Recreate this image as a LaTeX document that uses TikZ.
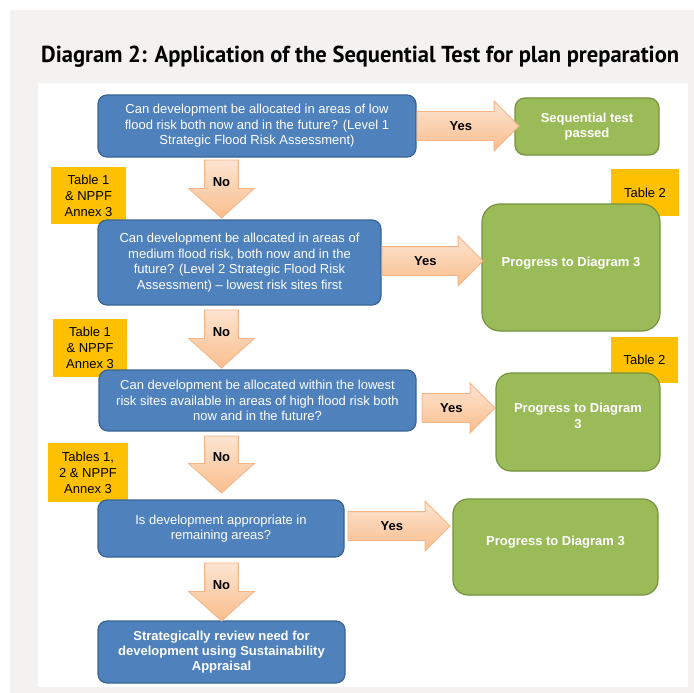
\documentclass[tikz,border=0pt]{standalone}
\usepackage{fontspec}
\usepackage{graphicx}
\setmainfont{Liberation Sans}
\newfontfamily\headfont{PT Sans}
\usetikzlibrary{shapes,arrows,positioning,calc}
\definecolor{pagegray}{HTML}{F3F2F1}
\definecolor{qblue}{HTML}{4F81BD}
\definecolor{qline}{HTML}{3A6493}
\definecolor{pgreen}{HTML}{9BBB59}
\definecolor{pline}{HTML}{76923C}
\definecolor{refyellow}{HTML}{FFC000}
\definecolor{arrtop}{HTML}{FDE4D0}
\definecolor{arrbot}{HTML}{F9BE8E}
\definecolor{arrline}{HTML}{F4B486}

\begin{document}
\begin{tikzpicture}[x=1pt, y=-1pt,
                    question/.style={rectangle, rounded corners=9pt, draw=qline, line width=1.2pt,
                                     fill=qblue, text=white, align=center, inner sep=0pt,
                                     font=\fontsize{13}{15.5}\selectfont},
                    outcome/.style={rectangle, rounded corners=12pt, draw=pline, line width=1.2pt,
                                    fill=pgreen, text=white, align=center, inner sep=0pt,
                                    font=\fontsize{13}{15.5}\selectfont\bfseries},
                    raised/.style={text depth=12pt},
                    tableref/.style={rectangle, fill=refyellow, align=center, inner sep=0pt,
                                     font=\fontsize{13}{16}\selectfont},
                    yesarrow/.style={single arrow, draw=arrline, line width=0.8pt,
                                     top color=arrtop, bottom color=arrbot, anchor=tail,
                                     font=\fontsize{13}{15}\selectfont\bfseries,
                                     text height=9.3pt, text depth=0pt, inner xsep=2pt, inner ysep=9.35pt,
                                     single arrow head extend=10.5pt, single arrow tip angle=90},
                    noarrow/.style={single arrow, shape border rotate=270, draw=arrline, line width=0.8pt,
                                    top color=arrtop, bottom color=arrbot, anchor=tail,
                                    font=\fontsize{13}{15}\selectfont\bfseries,
                                    text height=9.3pt, text depth=0pt, inner xsep=7.8pt, inner ysep=3pt,
                                    single arrow head extend=16pt, single arrow tip angle=96},
                   ]

\useasboundingbox (0,0) rectangle (694,693);
\fill[white] (0,0) rectangle (694,693);
\fill[pagegray] (10,10) rectangle (694,693);
\fill[white] (38,83) rectangle (688,687);

\node[anchor=base west, inner sep=0pt] (title) at (41,63)
  {\resizebox{638pt}{16.5pt}{\headfont\bfseries Diagram 2: Application of the Sequential Test for plan preparation}};

% references to the tables
\node[tableref, minimum width=75pt, minimum height=57pt] (ref1) at (88.5,195.5) {Table 1\\\& NPPF\\Annex 3};
\node[tableref, minimum width=74pt, minimum height=58pt] (ref2) at (90,348) {Table 1\\\& NPPF\\Annex 3};
\node[tableref, minimum width=80pt, minimum height=59pt] (ref3) at (88,472.5) {Tables 1,\\2 \& NPPF\\Annex 3};
\node[tableref, minimum width=68pt, minimum height=47pt] (tab2a) at (645,192.5) {Table 2};
\node[tableref, minimum width=67pt, minimum height=46pt] (tab2b) at (644.5,360) {Table 2};

% the questions
\node[question, minimum width=318pt, minimum height=62pt] (q1) at (257,126)
  {Can development be allocated in areas of low\\flood risk both now and in the future? (Level 1\\Strategic Flood Risk Assessment)};
\node[question, minimum width=283pt, minimum height=85pt] (q2) at (239.5,262.5)
  {Can development be allocated in areas of\\medium flood risk, both now and in the\\future? (Level 2 Strategic Flood Risk\\Assessment) -- lowest risk sites first};
\node[question, minimum width=317pt, minimum height=61pt] (q3) at (257.5,400.5)
  {Can development be allocated within the lowest\\risk sites available in areas of high flood risk both\\now and in the future?};
\node[question, minimum width=246pt, minimum height=57pt] (q4) at (221,528.5)
  {Is development appropriate in\\remaining areas?};
\node[question, minimum width=247pt, minimum height=62pt, font=\fontsize{13}{15}\selectfont\bfseries] (q5) at (221.5,652)
  {Strategically review need for\\development using Sustainability\\Appraisal};

% the outcomes
\node[outcome, rounded corners=10pt, minimum width=144pt, minimum height=57pt] (p1) at (587,126.5) {Sequential test\\passed};
\node[outcome, raised, rounded corners=18pt, minimum width=178pt, minimum height=127pt] (p2) at (571,267.5) {Progress to Diagram 3};
\node[outcome, raised, rounded corners=15pt, minimum width=164pt, minimum height=98pt] (p3) at (578,422) {Progress to Diagram\\3};
\node[outcome, raised, rounded corners=15pt, minimum width=205pt, minimum height=96pt] (p4) at (555.5,547) {Progress to Diagram 3};

% yes / no arrows
\coordinate (stem) at (221.5,0);
\node[yesarrow, minimum height=102pt] (yes1) at (q1.east) {Yes};
\node[yesarrow, minimum height=101pt] (yes2) at ([yshift=1.5pt]q2.east) {Yes};
\node[yesarrow, minimum height=73pt] (yes3) at ([xshift=5pt,yshift=-7.5pt]q3.east) {Yes};
\node[yesarrow, minimum height=102pt] (yes4) at ([xshift=3pt,yshift=2.5pt]q4.east) {Yes};

\node[noarrow, minimum height=58pt] (no1) at ([yshift=-2pt]q1.south -| stem) {No};
\node[noarrow, minimum height=58pt] (no2) at ([yshift=-4pt]q2.south -| stem) {No};
\node[noarrow, minimum height=57pt] (no3) at ([yshift=-4pt]q3.south -| stem) {No};
\node[noarrow, minimum height=58pt] (no4) at ([yshift=-5pt]q4.south -| stem) {No};

\end{tikzpicture}
\end{document}
